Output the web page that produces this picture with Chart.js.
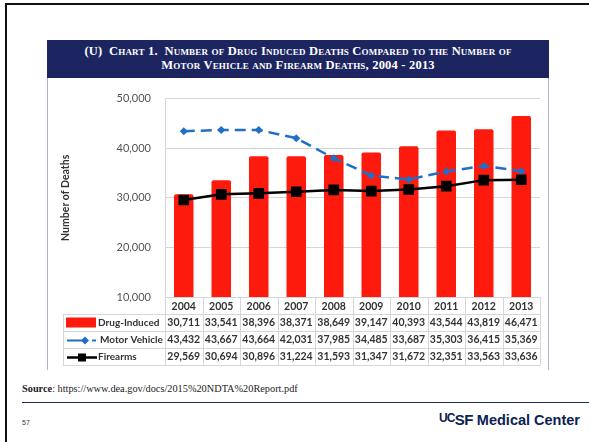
<!DOCTYPE html>
<html>
<head>
<meta charset="utf-8">
<script src="https://cdn.jsdelivr.net/npm/chart.js@4.4.1/dist/chart.umd.min.js"></script>
<style>
  body { margin: 0; background: #fff; }
  #slide { position: relative; width: 589px; height: 442px; overflow: hidden; background: #fff; }
  #frameTop { position: absolute; left: 5px; top: 3px; width: 584px; height: 2px; background: #111; }
  #frameLeft { position: absolute; left: 5px; top: 3px; width: 2px; height: 439px; background: #111; }
  #band { position: absolute; left: 47px; top: 40px; width: 502px; height: 38px; background: #1d2561;
          color: #fff; font-family: "Liberation Serif", serif; font-weight: bold; font-variant: small-caps;
          font-size: 12.5px; line-height: 14px; text-align: center; padding-top: 4px; box-sizing: border-box;
          letter-spacing: 0.2px; }
  #box { position: absolute; left: 47px; top: 78px; width: 500px; height: 292px;
         border-left: 1px solid #a9b3cc; border-right: 1px solid #a9b3cc; }
  #wrap { position: absolute; left: 47px; top: 78px; width: 501px; height: 292px; }
  #source { position: absolute; left: 22px; top: 383px; font-family: "Liberation Serif", serif; font-size: 10.3px; color: #222; }
  #rule { position: absolute; left: 22px; top: 402px; width: 567px; height: 1px; background: #1d2a5c; }
  #page { position: absolute; left: 22px; top: 419px; font-family: "Liberation Sans", sans-serif; font-size: 7px; color: #334; }
  #logo { position: absolute; right: 9px; top: 411px; font-family: "Liberation Sans", Arial, sans-serif; font-weight: bold;
          color: #0b2250; font-size: 14.5px; white-space: nowrap; }
  #logo .uc { font-size: 12px; position: relative; top: -3px; letter-spacing: -0.8px; }
  #logo .sf { font-size: 15px; letter-spacing: -0.5px; }
</style>
</head>
<body>
<div id="slide">
  <div id="frameTop"></div>
  <div id="frameLeft"></div>
  <div id="band">(U)&nbsp; Chart 1.&nbsp; Number of Drug Induced Deaths Compared to the Number of<br>Motor Vehicle and Firearm Deaths, 2004 - 2013</div>
  <div id="box"></div>
  <div id="wrap"><canvas id="chart"></canvas></div>
  <div id="source"><b>Source</b>: https://www.dea.gov/docs/2015%20NDTA%20Report.pdf</div>
  <div id="rule"></div>
  <div id="page">57</div>
  <div id="logo"><span class="uc">UC</span><span class="sf">SF</span> Medical Center</div>
</div>
<script>
const years = ['2004', '2005', '2006', '2007', '2008', '2009', '2010', '2011', '2012', '2013'];
const drugInduced = [30711, 33541, 38396, 38371, 38649, 39147, 40393, 43544, 43819, 46471];
const motorVehicle = [43432, 43667, 43664, 42031, 37985, 34485, 33687, 35303, 36415, 35369];
const firearms = [29569, 30694, 30896, 31224, 31593, 31347, 31672, 32351, 33563, 33636];
const yTicks = [10000, 20000, 30000, 40000, 50000];

const RED = '#fe1a0c';
const BLUE = '#1f6fc6';
const GRID = '#d6d6d6';
const FONT = 'Lato, "Open Sans", sans-serif';

// data table under the plot, columns follow the x scale
const tablePlugin = {
    id: 'dataTable',
    afterDraw(chart) {
        const ctx = chart.ctx;
        const x = chart.scales.x;
        const area = chart.chartArea;
        const step = x.getPixelForValue(1) - x.getPixelForValue(0);
        const rowH = 17;
        const top = area.bottom;
        const tableLeft = 16;
        const rows = [
            { label: 'Drug-Induced', values: drugInduced, textX: tableLeft + 35 },
            { label: 'Motor Vehicle', values: motorVehicle, textX: tableLeft + 37 },
            { label: 'Firearms', values: firearms, textX: tableLeft + 35 }
        ];
        ctx.save();
        ctx.strokeStyle = GRID;
        ctx.lineWidth = 1;
        // horizontal lines
        for (let r = 1; r <= 4; r++) {
            const y = Math.round(top + r * rowH) + 0.5;
            ctx.beginPath();
            ctx.moveTo(tableLeft, y);
            ctx.lineTo(area.right, y);
            ctx.stroke();
        }
        // vertical lines
        for (let i = 0; i <= years.length; i++) {
            const xx = Math.round(x.getPixelForValue(0) - step / 2 + i * step) + 0.5;
            ctx.beginPath();
            ctx.moveTo(xx, top);
            ctx.lineTo(xx, top + 4 * rowH);
            ctx.stroke();
        }
        ctx.beginPath();
        ctx.moveTo(tableLeft + 0.5, top + rowH);
        ctx.lineTo(tableLeft + 0.5, top + 4 * rowH);
        ctx.stroke();

        ctx.fillStyle = '#333';
        ctx.textBaseline = 'middle';
        rows.forEach((row, r) => {
            const cy = top + (r + 1.5) * rowH + 0.5;
            ctx.font = 'bold 10.5px ' + FONT;
            ctx.textAlign = 'center';
            row.values.forEach((v, i) => {
                ctx.fillText(v.toLocaleString('en-US'), x.getPixelForValue(i), cy);
            });
            ctx.font = 'bold 10px ' + FONT;
            ctx.textAlign = 'left';
            ctx.fillText(row.label, row.textX, cy);
        });

        // legend keys
        const y1 = top + 1.5 * rowH;
        ctx.fillStyle = RED;
        ctx.fillRect(tableLeft + 3, y1 - 5, 30, 10);

        const y2 = Math.round(top + 2.5 * rowH) + 0.5;
        ctx.strokeStyle = BLUE;
        ctx.lineWidth = 2;
        ctx.beginPath();
        ctx.moveTo(tableLeft + 4, y2);
        ctx.lineTo(tableLeft + 22, y2);
        ctx.moveTo(tableLeft + 29, y2);
        ctx.lineTo(tableLeft + 33, y2);
        ctx.stroke();
        ctx.fillStyle = BLUE;
        ctx.beginPath();
        ctx.moveTo(tableLeft + 22, y2 - 4);
        ctx.lineTo(tableLeft + 26, y2);
        ctx.lineTo(tableLeft + 22, y2 + 4);
        ctx.lineTo(tableLeft + 18, y2);
        ctx.closePath();
        ctx.fill();

        const y3 = Math.round(top + 3.5 * rowH) + 0.5;
        ctx.strokeStyle = '#000';
        ctx.lineWidth = 2.5;
        ctx.beginPath();
        ctx.moveTo(tableLeft + 4, y3);
        ctx.lineTo(tableLeft + 34, y3);
        ctx.stroke();
        ctx.fillStyle = '#000';
        ctx.fillRect(tableLeft + 15, y3 - 4, 8, 8);
        ctx.restore();
    }
};

new Chart(document.getElementById('chart'), {
    type: 'bar',
    data: {
        labels: years,
        datasets: [{
            label: 'Drug-Induced',
            data: drugInduced,
            backgroundColor: RED,
            barPercentage: 0.52,
            categoryPercentage: 1,
            borderRadius: 2,
            borderSkipped: 'bottom',
            order: 3
        }, {
            type: 'line',
            label: 'Motor Vehicle',
            data: motorVehicle,
            borderColor: BLUE,
            backgroundColor: BLUE,
            borderWidth: 2.5,
            borderDash: [11, 6],
            tension: 0,
            pointStyle: 'rectRot',
            pointRadius: 4,
            pointBorderWidth: 0,
            order: 2
        }, {
            type: 'line',
            label: 'Firearms',
            data: firearms,
            borderColor: '#000',
            backgroundColor: '#000',
            borderWidth: 2.5,
            tension: 0,
            pointStyle: 'rect',
            pointRadius: 7.5,
            pointBorderWidth: 0,
            order: 1
        }]
    },
    options: {
        responsive: true,
        maintainAspectRatio: false,
        animation: false,
        layout: { padding: { top: 19, right: 8, left: 0, bottom: 0 } },
        plugins: {
            legend: { display: false },
            tooltip: { enabled: false }
        },
        scales: {
            x: {
                grid: { display: false, drawTicks: false },
                border: { display: false },
                ticks: {
                    padding: 3,
                    color: '#333',
                    font: { family: FONT, size: 10.5, weight: 'bold' }
                },
                afterFit(scale) { scale.height = 73; }
            },
            y: {
                min: 10000,
                max: 50000,
                afterBuildTicks(scale) { scale.ticks = yTicks.map(v => ({ value: v })); },
                grid: { color: GRID, drawTicks: false },
                border: { color: GRID },
                ticks: {
                    padding: 14,
                    color: '#555',
                    font: { family: FONT, size: 11 },
                    callback: v => v.toLocaleString('en-US')
                },
                title: {
                    display: true,
                    text: 'Number of Deaths',
                    color: '#333',
                    padding: { top: 12, bottom: 0 },
                    font: { family: FONT, size: 10.5, weight: 'bold' }
                },
                afterFit(scale) { scale.width = 118; }
            }
        }
    },
    plugins: [tablePlugin]
});
</script>
</body>
</html>
